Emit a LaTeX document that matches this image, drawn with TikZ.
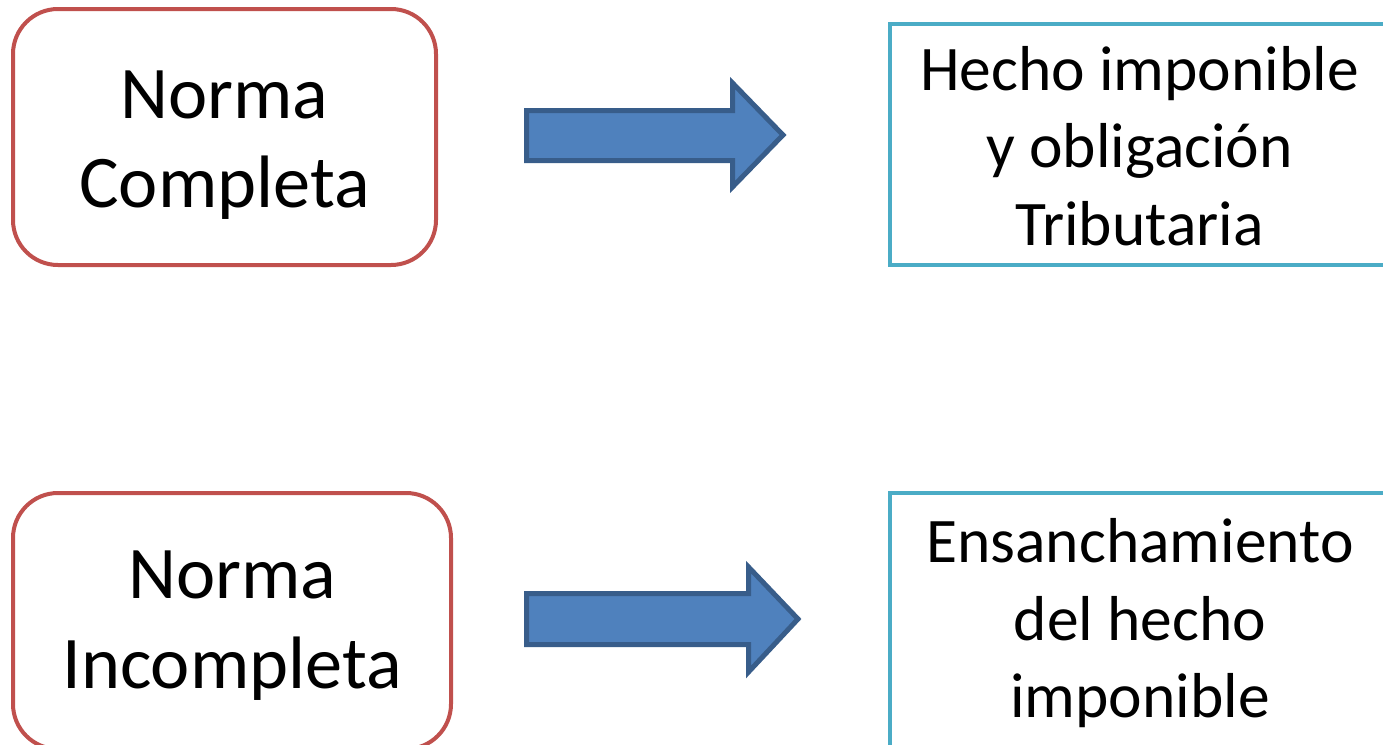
\documentclass[tikz,border=0pt]{standalone}
\usepackage{fontspec}
\setmainfont{Carlito}
\definecolor{boxred}{HTML}{C0504D}
\definecolor{boxblue}{HTML}{4BACC6}
\definecolor{arrfill}{HTML}{4F81BD}
\definecolor{arrline}{HTML}{385D8A}
\tikzset{
  redbox/.style={draw=boxred, line width=4pt, rounded corners=45pt, inner sep=0pt, fill=white},
  bluebox/.style={draw=boxblue, line width=4pt, inner sep=0pt, fill=white},
  bigtxt/.style={anchor=base, inner sep=0pt, font=\fontsize{74.3}{89}\selectfont},
  midtxt/.style={anchor=base, inner sep=0pt, font=\fontsize{63.5}{77}\selectfont},
  blockarrow/.style={fill=arrfill, draw=arrline, line width=5pt, line join=miter}
}
\begin{document}
\begin{tikzpicture}[x=1pt,y=-1pt]
\useasboundingbox (0,0) rectangle (1383,744);
\clip (0,0) rectangle (1383,744);
% boxes
\node[redbox, minimum width=423pt, minimum height=256pt] (nc) at (224.5,137) {};
\node[redbox, minimum width=438pt, minimum height=256pt] (ni) at (232,621) {};
\node[bluebox, minimum width=499pt, minimum height=241pt] (hi) at (1139.5,144.5) {};
\node[bluebox, minimum width=500pt, minimum height=257pt] (en) at (1140,621.5) {};
% texts
\node[bigtxt] (nc1) at (224.5,118) {Norma};
\node[bigtxt] (nc2) at (224.5,207) {Completa};
\node[bigtxt] (ni1) at (232,598) {Norma};
\node[bigtxt] (ni2) at (232,688) {Incompleta};
\node[midtxt] (hi1) at (1139.5,90) {Hecho imponible};
\node[midtxt] (hi2) at (1139.5,167) {y obligación};
\node[midtxt] (hi3) at (1139.5,245) {Tributaria};
\node[midtxt] (en1) at (1140,562) {Ensanchamiento};
\node[midtxt] (en2) at (1140,640) {del hecho};
\node[midtxt] (en3) at (1140,717) {imponible};
% block arrows
\draw[blockarrow] (526.5,110.5) -- (732.5,110.5) -- (732.5,83) -- (783,135) -- (732.5,187) -- (732.5,160.5) -- (526.5,160.5) -- cycle;
\draw[blockarrow] (526.5,593.5) -- (748.5,593.5) -- (748.5,567) -- (798,619) -- (748.5,672) -- (748.5,644.5) -- (526.5,644.5) -- cycle;
\end{tikzpicture}
\end{document}
